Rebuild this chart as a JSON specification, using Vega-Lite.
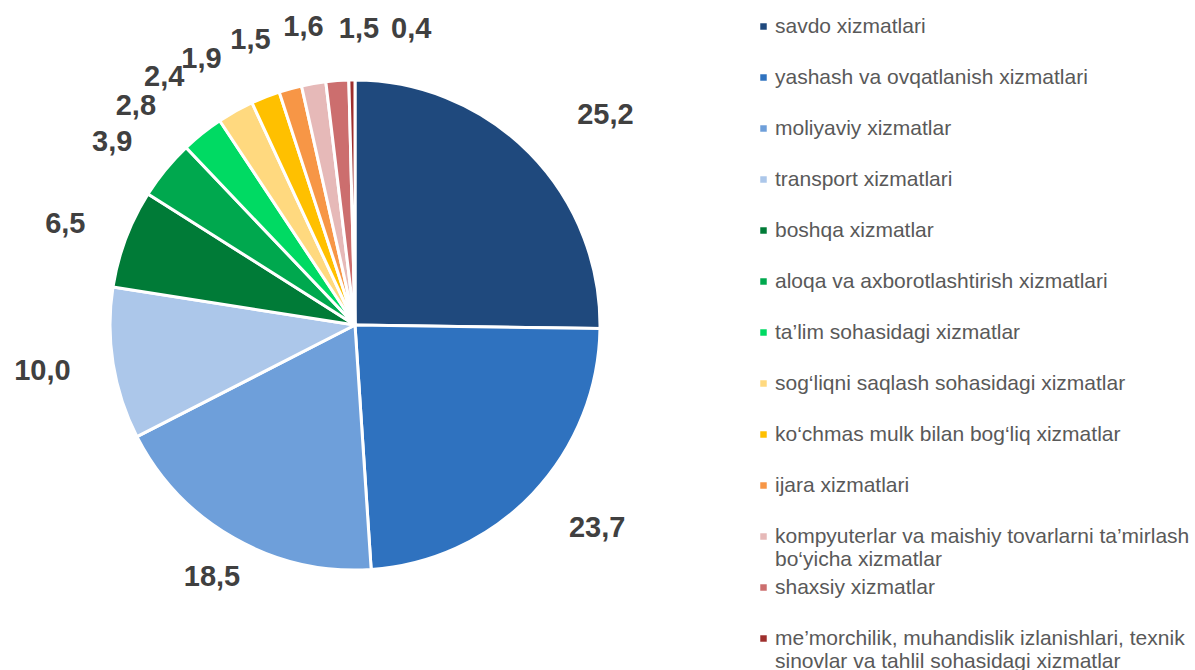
{
  "$schema": "https://vega.github.io/schema/vega-lite/v6.json",
  "width": 710,
  "height": 650,
  "padding": 0,
  "autosize": {"type": "pad"},
  "background": "white",
  "config": {
    "view": {"stroke": null},
    "locale": {"number": {"decimal": ",", "thousands": " ", "grouping": [3], "currency": ["", ""]}}
  },
  "data": {
    "values": [
      {"category": "savdo xizmatlari", "value": 25.2},
      {"category": "yashash va ovqatlanish xizmatlari", "value": 23.7},
      {"category": "moliyaviy xizmatlar", "value": 18.5},
      {"category": "transport xizmatlari", "value": 10.0},
      {"category": "boshqa xizmatlar", "value": 6.5},
      {"category": "aloqa va axborotlashtirish xizmatlari", "value": 3.9},
      {"category": "ta’lim sohasidagi xizmatlar", "value": 2.8},
      {"category": "sog‘liqni saqlash sohasidagi xizmatlar", "value": 2.4},
      {"category": "ko‘chmas mulk bilan bog‘liq xizmatlar", "value": 1.9},
      {"category": "ijara xizmatlari", "value": 1.5},
      {"category": "kompyuterlar va maishiy tovarlarni ta’mirlash bo‘yicha xizmatlar", "value": 1.6},
      {"category": "shaxsiy xizmatlar", "value": 1.5},
      {"category": "me’morchilik, muhandislik izlanishlari, texnik sinovlar va tahlil sohasidagi xizmatlar", "value": 0.4}
    ]
  },
  "transform": [{"window": [{"op": "row_number", "as": "idx"}]}],
  "encoding": {
    "theta": {"field": "value", "type": "quantitative", "stack": true},
    "order": {"field": "idx", "type": "quantitative"}
  },
  "layer": [
    {
      "mark": {"type": "arc", "outerRadius": 245, "stroke": "white", "strokeWidth": 3},
      "encoding": {
        "color": {
          "field": "category",
          "type": "nominal",
          "scale": {
            "domain": [
              "savdo xizmatlari",
              "yashash va ovqatlanish xizmatlari",
              "moliyaviy xizmatlar",
              "transport xizmatlari",
              "boshqa xizmatlar",
              "aloqa va axborotlashtirish xizmatlari",
              "ta’lim sohasidagi xizmatlar",
              "sog‘liqni saqlash sohasidagi xizmatlar",
              "ko‘chmas mulk bilan bog‘liq xizmatlar",
              "ijara xizmatlari",
              "kompyuterlar va maishiy tovarlarni ta’mirlash bo‘yicha xizmatlar",
              "shaxsiy xizmatlar",
              "me’morchilik, muhandislik izlanishlari, texnik sinovlar va tahlil sohasidagi xizmatlar"
            ],
            "range": ["#1F497D", "#2F72BF", "#6E9FDA", "#ACC7EA", "#007B37", "#00A84E", "#00DA63", "#FFD97F", "#FFC000", "#F79646", "#E6B9B8", "#CC6E6E", "#9E2F2D"]
          },
          "legend": {
            "title": null,
            "orient": "none",
            "legendX": 753,
            "legendY": 16,
            "padding": 0,
            "symbolType": "square",
            "symbolSize": 42,
            "symbolStrokeWidth": 0,
            "labelFont": "Liberation Sans",
            "labelFontSize": 21,
            "labelColor": "#595959",
            "labelOffset": 1,
            "labelLimit": 470,
            "labelLineHeight": 23,
            "gridAlign": "all",
            "rowPadding": 6,
            "labelExpr": "datum.label == 'kompyuterlar va maishiy tovarlarni ta’mirlash bo‘yicha xizmatlar' ? ['kompyuterlar va maishiy tovarlarni ta’mirlash', 'bo‘yicha xizmatlar'] : datum.label == 'me’morchilik, muhandislik izlanishlari, texnik sinovlar va tahlil sohasidagi xizmatlar' ? ['me’morchilik, muhandislik izlanishlari, texnik', 'sinovlar va tahlil sohasidagi xizmatlar'] : datum.label"
          }
        }
      }
    },
    {
      "mark": {"type": "text", "radius": 305, "dx": 5, "dy": 4, "align": "left", "baseline": "middle", "font": "Liberation Sans", "fontWeight": "bold", "fontSize": 29, "color": "#404040"},
      "encoding": {
        "detail": {"field": "category"},
        "text": {"value": "", "condition": {"test": "datum.idx == 1", "field": "value", "type": "quantitative", "format": ".1f"}}
      }
    },
    {
      "mark": {"type": "text", "radius": 295, "align": "left", "baseline": "middle", "font": "Liberation Sans", "fontWeight": "bold", "fontSize": 29, "color": "#404040"},
      "encoding": {
        "detail": {"field": "category"},
        "text": {"value": "", "condition": {"test": "datum.idx == 2", "field": "value", "type": "quantitative", "format": ".1f"}}
      }
    },
    {
      "mark": {"type": "text", "radius": 288, "align": "right", "baseline": "middle", "font": "Liberation Sans", "fontWeight": "bold", "fontSize": 29, "color": "#404040"},
      "encoding": {
        "detail": {"field": "category"},
        "text": {"value": "", "condition": {"test": "datum.idx >= 4 && datum.idx <= 6", "field": "value", "type": "quantitative", "format": ".1f"}}
      }
    },
    {
      "mark": {"type": "text", "radius": 290, "align": "center", "baseline": "middle", "font": "Liberation Sans", "fontWeight": "bold", "fontSize": 29, "color": "#404040"},
      "encoding": {
        "detail": {"field": "category"},
        "text": {"value": "", "condition": {"test": "datum.idx == 3", "field": "value", "type": "quantitative", "format": ".1f"}}
      }
    },
    {
      "mark": {"type": "text", "radius": 305, "dx": -29, "dy": 20, "align": "center", "baseline": "middle", "font": "Liberation Sans", "fontWeight": "bold", "fontSize": 29, "color": "#404040"},
      "encoding": {
        "detail": {"field": "category"},
        "text": {"value": "", "condition": {"test": "datum.idx == 7", "field": "value", "type": "quantitative", "format": ".1f"}}
      }
    },
    {
      "mark": {"type": "text", "radius": 305, "dx": -42, "dy": 18, "align": "center", "baseline": "middle", "font": "Liberation Sans", "fontWeight": "bold", "fontSize": 29, "color": "#404040"},
      "encoding": {
        "detail": {"field": "category"},
        "text": {"value": "", "condition": {"test": "datum.idx == 8 || datum.idx == 9", "field": "value", "type": "quantitative", "format": ".1f"}}
      }
    },
    {
      "mark": {"type": "text", "radius": 305, "dx": -24, "dy": 9, "align": "center", "baseline": "middle", "font": "Liberation Sans", "fontWeight": "bold", "fontSize": 29, "color": "#404040"},
      "encoding": {
        "detail": {"field": "category"},
        "text": {"value": "", "condition": {"test": "datum.idx == 10", "field": "value", "type": "quantitative", "format": ".1f"}}
      }
    },
    {
      "mark": {"type": "text", "radius": 305, "dy": 3, "align": "center", "baseline": "middle", "font": "Liberation Sans", "fontWeight": "bold", "fontSize": 29, "color": "#404040"},
      "encoding": {
        "detail": {"field": "category"},
        "text": {"value": "", "condition": {"test": "datum.idx == 11", "field": "value", "type": "quantitative", "format": ".1f"}}
      }
    },
    {
      "mark": {"type": "text", "radius": 305, "dx": 26, "dy": 8, "align": "center", "baseline": "middle", "font": "Liberation Sans", "fontWeight": "bold", "fontSize": 29, "color": "#404040"},
      "encoding": {
        "detail": {"field": "category"},
        "text": {"value": "", "condition": {"test": "datum.idx == 12", "field": "value", "type": "quantitative", "format": ".1f"}}
      }
    },
    {
      "mark": {"type": "text", "radius": 305, "dx": 60, "dy": 9, "align": "center", "baseline": "middle", "font": "Liberation Sans", "fontWeight": "bold", "fontSize": 29, "color": "#404040"},
      "encoding": {
        "detail": {"field": "category"},
        "text": {"value": "", "condition": {"test": "datum.idx == 13", "field": "value", "type": "quantitative", "format": ".1f"}}
      }
    }
  ]
}
